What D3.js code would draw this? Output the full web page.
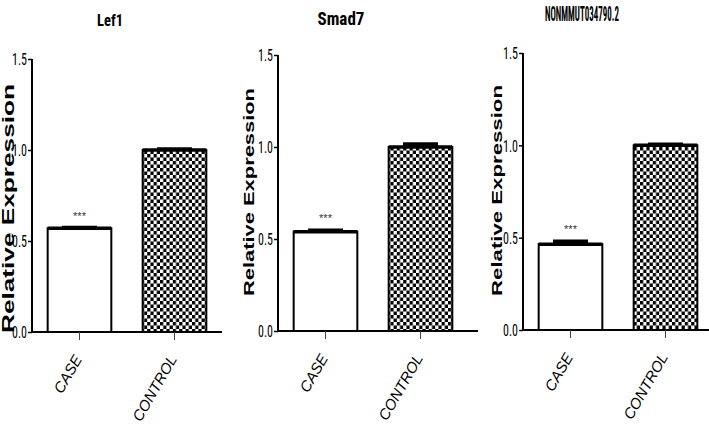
<!DOCTYPE html>
<html><head><meta charset="utf-8">
<script src="https://cdn.jsdelivr.net/npm/d3@7"></script>
<style>body{margin:0;background:#fff}svg{display:block}</style>
</head><body>
<svg id="chart" width="709" height="430"></svg>
<script>
// ---- data ----
const panelTitles = ["Lef1", "Smad7", "NONMMUT034790.2"];
const categories = ["CASE", "CONTROL"];
const caseMeans = [0.57, 0.54, 0.465];
const caseSEM = [0.008, 0.012, 0.02];
const controlMeans = [1.0, 1.0, 1.0];
const controlSEM = [0.01, 0.02, 0.01];
const yTicks = [0.0, 0.5, 1.0, 1.5];
const significance = ["***", "***", "***"];
const yLabel = "Relative Expression";

// ---- layout (positions/sizes) ----
const layout = [
  {ax: 32, top: 59, bottom: 332, xLen: 190, tx: 110, ty: 26, tw: 26, tfs: 17, lx: 14, ly0: 84, ly1: 333, lfs: 16},
  {ax: 278, top: 55, bottom: 331, xLen: 200, tx: 341, ty: 25, tw: 47, tfs: 19, lx: 254, ly0: 88, ly1: 296, lfs: 15},
  {ax: 523, top: 53, bottom: 330, xLen: 190, tx: 582, ty: 21, tw: 74, tfs: 21, lx: 502, ly0: 85, ly1: 296, lfs: 15}
];

const svg = d3.select("#chart");
const defs = svg.append("defs");
const pat = defs.append("pattern").attr("id", "checker")
  .attr("patternUnits", "userSpaceOnUse").attr("width", 6.4).attr("height", 7);
pat.append("rect").attr("width", 6.4).attr("height", 7).attr("fill", "#fff");
pat.append("rect").attr("x", 0).attr("y", 0).attr("width", 3.2).attr("height", 3.5).attr("fill", "#000");
pat.append("rect").attr("x", 3.2).attr("y", 3.5).attr("width", 3.2).attr("height", 3.5).attr("fill", "#000");

const sans = "'Liberation Sans',Arial,sans-serif";
const cond = "'Roboto Condensed','Liberation Sans',Arial,sans-serif";

function squeeze(sel, targetW, ax, ay) {
  sel.each(function () {
    const w = this.getComputedTextLength();
    d3.select(this).attr("transform", `translate(${ax},${ay}) scale(${targetW / w},1)`);
  });
}

panelTitles.forEach((title, i) => {
  const L = layout[i];
  const g = svg.append("g");
  const y = d3.scaleLinear().domain([0, 1.5]).range([L.bottom, L.top]);
  const x = d3.scaleBand().domain(categories).range([L.ax, L.ax + 190])
    .paddingInner(0.33).paddingOuter(0.165);
  const means = [caseMeans[i], controlMeans[i]];
  const sems = [caseSEM[i], controlSEM[i]];

  // title
  const t = g.append("text").attr("text-anchor", "middle")
    .attr("font-family", cond).attr("font-weight", "bold").attr("font-size", L.tfs)
    .text(title);
  squeeze(t, L.tw, L.tx, L.ty);

  // y label
  g.append("text")
    .attr("transform", `translate(${L.lx},${(L.ly0 + L.ly1) / 2}) rotate(-90)`)
    .attr("text-anchor", "middle")
    .attr("font-family", sans).attr("font-weight", "bold")
    .attr("font-size", L.lfs)
    .attr("textLength", L.ly1 - L.ly0).attr("lengthAdjust", "spacingAndGlyphs")
    .text(yLabel);

  // bars
  categories.forEach((c, j) => {
    const bx = x(c), bw = x.bandwidth();
    g.append("rect").attr("x", bx).attr("y", y(means[j]))
      .attr("width", bw).attr("height", y(0) - y(means[j]))
      .attr("fill", j === 0 ? "#fff" : "url(#checker)")
      .attr("stroke", "#000").attr("stroke-width", 2);
    g.append("line").attr("x1", bx).attr("x2", bx + bw)
      .attr("y1", y(means[j])).attr("y2", y(means[j]))
      .attr("stroke", "#000").attr("stroke-width", 3.5);
    const cw = bw * 0.55, cx = bx + bw / 2;
    g.append("rect").attr("x", cx - cw / 2).attr("y", y(means[j] + sems[j]))
      .attr("width", cw).attr("height", Math.max(0.5, y(means[j]) - y(means[j] + sems[j])))
      .attr("fill", "#000");
    g.append("line").attr("x1", cx - cw / 2).attr("x2", cx + cw / 2)
      .attr("y1", y(means[j] + sems[j])).attr("y2", y(means[j] + sems[j]))
      .attr("stroke", "#000").attr("stroke-width", 2);
  });

  // significance
  g.append("text").attr("x", x("CASE") + x.bandwidth() / 2)
    .attr("y", y(caseMeans[i] + caseSEM[i]) - 7)
    .attr("text-anchor", "middle").attr("font-family", sans)
    .attr("font-size", 11).attr("fill", "#333").text(significance[i]);

  // y axis
  const yAxis = g.append("g").attr("transform", `translate(${L.ax},0)`)
    .call(d3.axisLeft(y).tickValues(yTicks).tickFormat(d3.format(".1f")).tickSize(4).tickPadding(1));
  yAxis.select(".domain").attr("stroke", "#000").attr("stroke-width", 2)
    .attr("d", `M0,${L.top}V${L.bottom}`);
  yAxis.selectAll(".tick line").attr("stroke", "#000").attr("stroke-width", 1.5);
  yAxis.selectAll(".tick text").each(function () {
    const el = d3.select(this).attr("font-family", cond).attr("font-size", 17)
      .attr("fill", "#000").attr("x", 0).attr("dy", "0.35em");
    const w = this.getComputedTextLength();
    el.attr("transform", `translate(-5,0) scale(${15 / w},1)`);
  });

  // x axis
  const xAxis = g.append("g").attr("transform", `translate(0,${L.bottom})`)
    .call(d3.axisBottom(x).tickSize(8).tickFormat(""));
  xAxis.select(".domain").attr("stroke", "#000").attr("stroke-width", 2)
    .attr("d", `M${L.ax},0H${L.ax + L.xLen}`);
  xAxis.selectAll(".tick line").attr("stroke", "#444").attr("stroke-width", 1);

  // category labels
  categories.forEach(c => {
    g.append("text")
      .attr("transform", `translate(${x(c) + x.bandwidth() / 2 + 3},${L.bottom + 27}) rotate(-60)`)
      .attr("text-anchor", "end")
      .attr("font-family", sans).attr("font-style", "italic")
      .attr("font-size", 15).attr("fill", "#000").text(c);
  });
});
</script>
</body></html>
